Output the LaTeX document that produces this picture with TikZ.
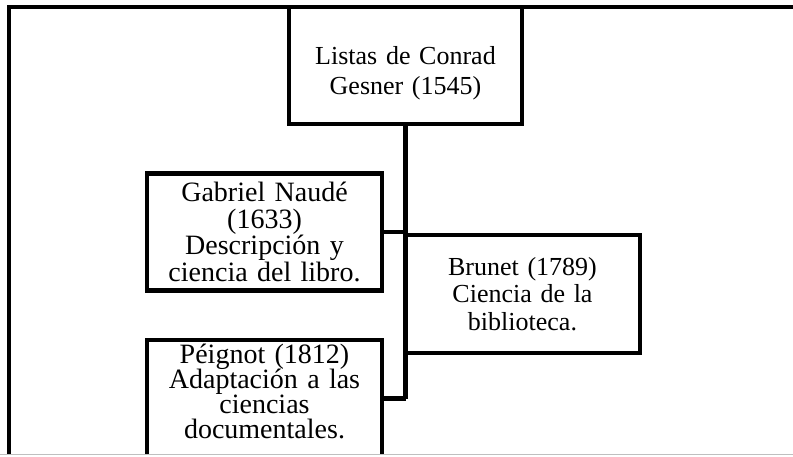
\documentclass[tikz,border=0pt]{standalone}
\usepackage{fontspec}
\setmainfont{Liberation Serif}
\newcommand\mytight{\lineskiplimit=-50pt\relax}
\begin{document}
\begin{tikzpicture}[x=1pt,y=-1pt,
  box/.style={draw=black, line width=4.5pt, rectangle, inner sep=0pt, align=center,
    text width=228pt, minimum width=235pt, minimum height=117pt},
  conn/.style={draw=black, line width=4.5pt}]
\useasboundingbox (0,0) rectangle (793,456);
\begin{scope}
\clip (0,0) rectangle (793,453.5);
\draw[conn] (9,470) -- (9,7) -- (800,7);
\node[box, minimum width=233pt, font={\fontsize{26}{30}\selectfont\mytight}] (gesner) at (405.5,65.5) {\rule{0pt}{34pt}Listas de Conrad\\Gesner (1545)};
\node[box, font={\fontsize{28}{26.7}\selectfont\mytight}] (naude) at (264.5,232) {Gabriel Naudé\\(1633)\\Descripción y\\ciencia del libro.};
\node[box, minimum height=118pt, font={\fontsize{26}{27.5}\selectfont\mytight}] (brunet) at (522.5,294) {Brunet (1789)\\Ciencia de la\\biblioteca.};
\node[box, font={\fontsize{28}{25}\selectfont\mytight}] (peignot) at (264.5,398.5) {Péignot (1812)\\Adaptación a las\\ciencias\\documentales.\rule[-15pt]{0pt}{15pt}};
\draw[conn] (gesner.south) -- (gesner.south |- peignot.east);
\draw[conn] (naude.east) -- (naude.east -| brunet.west);
\draw[conn] (peignot.east) -- (peignot.east -| gesner.south);
\end{scope}
\draw[gray!50, line width=1pt] (0,454) -- (793,454);
\end{tikzpicture}
\end{document}
